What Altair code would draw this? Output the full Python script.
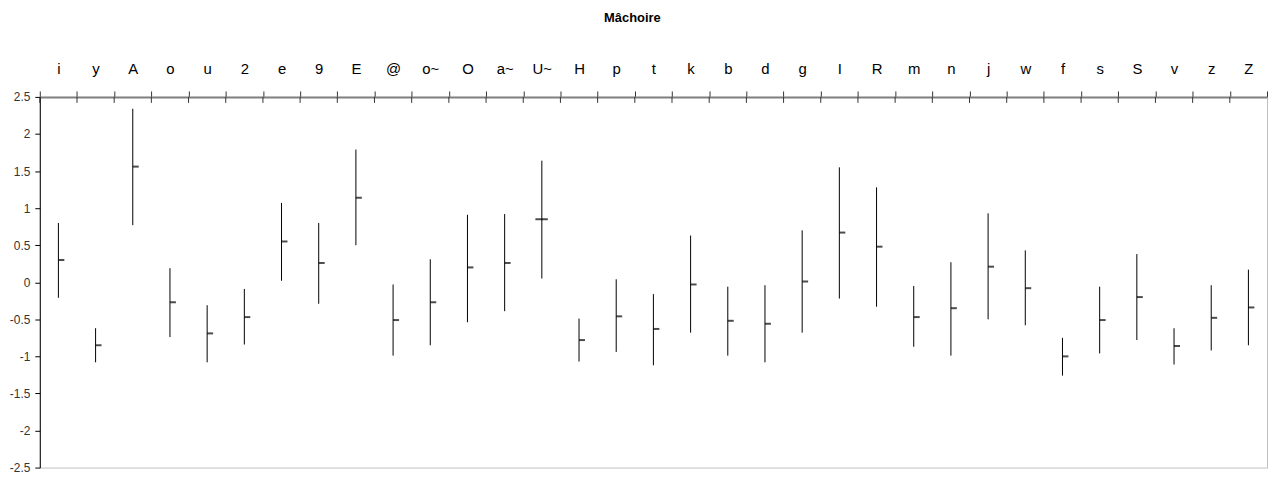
import altair as alt
import pandas as pd

categories = ["i", "y", "A", "o", "u", "2", "e", "9", "E", "@", "o~", "O", "a~", "U~", "H", "p",
              "t", "k", "b", "d", "g", "I", "R", "m", "n", "j", "w", "f", "s", "S", "v", "z", "Z"]
high = [0.80, -0.62, 2.34, 0.19, -0.31, -0.09, 1.07, 0.80, 1.79, -0.03,
        0.31, 0.91, 0.92, 1.64, -0.49, 0.04, -0.16, 0.63, -0.06, -0.04,
        0.70, 1.55, 1.28, -0.05, 0.27, 0.93, 0.43, -0.75, -0.06, 0.38,
        -0.62, -0.04, 0.17]
low = [-0.21, -1.08, 0.77, -0.74, -1.08, -0.84, 0.02, -0.29, 0.50, -0.99,
       -0.85, -0.54, -0.39, 0.05, -1.07, -0.94, -1.12, -0.68, -0.99, -1.08,
       -0.68, -0.22, -0.33, -0.87, -0.99, -0.50, -0.58, -1.26, -0.96, -0.78,
       -1.11, -0.92, -0.85]
close = [0.30, -0.85, 1.56, -0.27, -0.69, -0.47, 0.55, 0.26, 1.14, -0.51,
         -0.27, 0.20, 0.26, 0.85, -0.78, -0.46, -0.63, -0.03, -0.52, -0.56,
         0.01, 0.67, 0.48, -0.47, -0.35, 0.21, -0.08, -1.00, -0.51, -0.20,
         -0.86, -0.48, -0.34]
open_cats = ["U~"]
open_vals = [0.85]
y_ticks = [2.5, 2, 1.5, 1, 0.5, 0, -0.5, -1, -1.5, -2, -2.5]

df = pd.DataFrame({"cat": categories, "high": high, "low": low, "close": close})
df_open = pd.DataFrame({"cat": open_cats, "open": open_vals})

FONT = "Liberation Sans"

xscale = alt.Scale(domain=categories, paddingInner=0, paddingOuter=0)
yscale = alt.Scale(domain=[-2.5, 2.5], nice=False, zero=False)

x_axis = alt.Axis(
    orient="top", title=None, tickBand="extent", tickSize=6, tickColor="#333333",
    domainColor="#808080", domainWidth=2, labelAngle=0, labelFontSize=15,
    labelFont=FONT, labelColor="#000000", labelBaseline="alphabetic", labelPadding=18,
    labelOverlap=False, grid=False,
)
y_axis = alt.Axis(
    title=None, values=y_ticks, labelExpr="toString(datum.value)", tickSize=5,
    tickColor="#000000", domainColor="#000000", domainWidth=1, labelFontSize=12,
    labelFont=FONT, labelColor="#333333", labelPadding=5, labelOverlap=False,
    labelFlush=False, grid=False,
)

hl = alt.Chart(df).mark_rule(color="#000000", strokeWidth=1).encode(
    x=alt.X("cat:N", scale=xscale, axis=x_axis, sort=categories),
    y=alt.Y("low:Q", scale=yscale, axis=y_axis),
    y2="high:Q",
)

close_tick = alt.Chart(df).mark_tick(color="#000000", thickness=2, size=6, xOffset=3).encode(
    x=alt.X("cat:N", scale=xscale, axis=x_axis, sort=categories),
    y=alt.Y("close:Q", scale=yscale, axis=y_axis),
)

open_tick = alt.Chart(df_open).mark_tick(color="#000000", thickness=2, size=7, xOffset=-3).encode(
    x=alt.X("cat:N", scale=xscale, axis=x_axis, sort=categories),
    y=alt.Y("open:Q", scale=yscale, axis=y_axis),
)

lower_ticks = alt.Chart(df).mark_rule(color="#333333", strokeWidth=1).encode(
    x=alt.X("cat:N", scale=xscale, axis=x_axis, sort=categories, bandPosition=0),
    y=alt.value(0),
    y2=alt.value(6),
)

chart = alt.layer(hl, close_tick, open_tick, lower_ticks).properties(
    width=1235,
    height=373,
    autosize=alt.AutoSizeParams(type="none"),
    padding={"left": 32, "top": 88, "right": 2, "bottom": 8},
    title=alt.TitleParams(
        "Mâchoire", fontSize=13, font=FONT, fontWeight="bold", color="#000000",
        anchor="middle", frame="bounds", offset=36, dx=-6,
    ),
).configure_view(
    stroke="#c0c0c0", strokeWidth=1
).configure_axisY(
    labelOverlap=False, labelFlush=False
)

chart.save("out.html", embed_options={"renderer": "svg", "actions": False})
